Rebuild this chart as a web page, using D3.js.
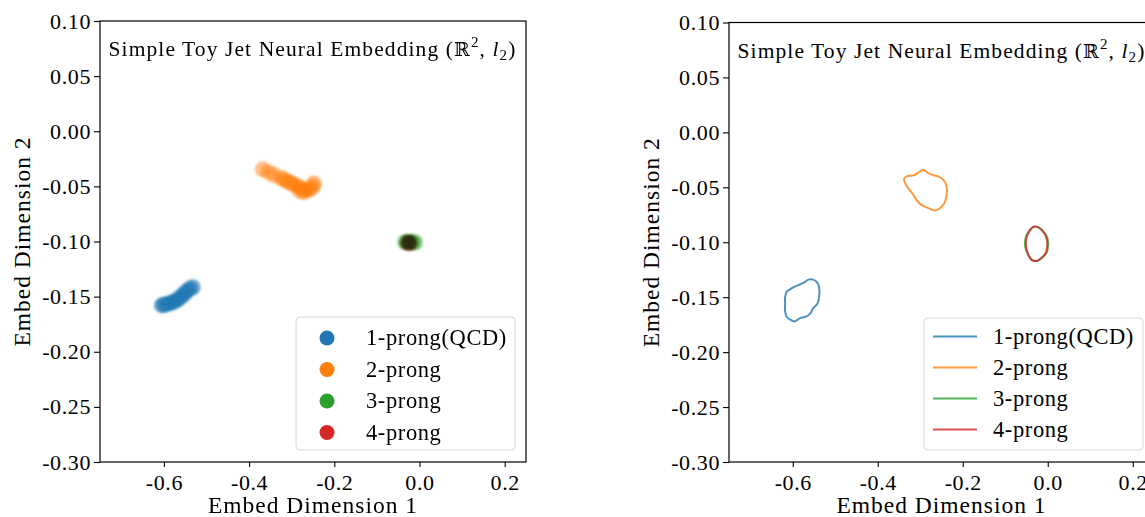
<!DOCTYPE html>
<html>
<head>
<meta charset="utf-8">
<script src="https://cdn.jsdelivr.net/npm/d3@7"></script>
<style>
    body { margin: 0; background: #fff; }
    text { font-family: "Liberation Serif", "Times New Roman", serif; fill: #000; }
</style>
</head>
<body>
<div id="chart"></div>
<script>
// ---- data ----
const categories = ['1-prong(QCD)', '2-prong', '3-prong', '4-prong'];
const colors = ['#1f77b4', '#ff7f0e', '#2ca02c', '#d62728'];

const xTicks = [-0.6, -0.4, -0.2, 0.0, 0.2];
const xTickLabels = ['-0.6', '-0.4', '-0.2', '0.0', '0.2'];
const yTicks = [0.10, 0.05, 0.00, -0.05, -0.10, -0.15, -0.20, -0.25, -0.30];
const yTickLabels = ['0.10', '0.05', '0.00', '-0.05', '-0.10', '-0.15', '-0.20', '-0.25', '-0.30'];

// embedded jets (left panel), [dim1, dim2]
const points1prong = [
    [-0.6050, -0.1580], [-0.6021, -0.1576], [-0.5974, -0.1571], [-0.5927, -0.1567],
    [-0.5880, -0.1562], [-0.5833, -0.1558], [-0.5786, -0.1549], [-0.5739, -0.1540],
    [-0.5692, -0.1531], [-0.5646, -0.1517], [-0.5599, -0.1503], [-0.5552, -0.1485],
    [-0.5505, -0.1467], [-0.5458, -0.1449], [-0.5411, -0.1435], [-0.5364, -0.1422],
    [-0.5317, -0.1413]
];
const points2prong = [
    [-0.3680, -0.0345], [-0.3545, -0.0372], [-0.3415, -0.0397],
    [-0.3251, -0.0424], [-0.3181, -0.0438], [-0.3110, -0.0451], [-0.3040, -0.0465],
    [-0.2969, -0.0478], [-0.2899, -0.0492], [-0.2829, -0.0506], [-0.2758, -0.0519],
    [-0.2688, -0.0533], [-0.2617, -0.0533], [-0.2547, -0.0519], [-0.2500, -0.0497],
    [-0.2477, -0.0474], [-0.2805, -0.0542], [-0.2711, -0.0551]
];
const points3prong = [
    [-0.0340, -0.1004], [-0.0293, -0.1009], [-0.0246, -0.1004],
    [-0.0200, -0.1009], [-0.0153, -0.1004], [-0.0106, -0.1009]
];
const points4prong = [
    [-0.0270, -0.1009], [-0.0235, -0.1014]
];

// density contours (right panel), [dim1, dim2]
const contour1prong = [
    [-0.618, -0.150], [-0.614, -0.145], [-0.603, -0.142], [-0.587, -0.139], [-0.575, -0.137],
    [-0.563, -0.134], [-0.552, -0.134], [-0.542, -0.137], [-0.538, -0.141], [-0.538, -0.150],
    [-0.542, -0.156], [-0.552, -0.160], [-0.559, -0.165], [-0.571, -0.168], [-0.583, -0.169],
    [-0.595, -0.172], [-0.603, -0.171], [-0.614, -0.168], [-0.618, -0.163], [-0.618, -0.156]
];
const contour2prong = [
    [-0.338, -0.042], [-0.332, -0.040], [-0.315, -0.039], [-0.302, -0.036], [-0.293, -0.034],
    [-0.281, -0.037], [-0.269, -0.039], [-0.258, -0.040], [-0.246, -0.043], [-0.238, -0.049],
    [-0.238, -0.057], [-0.244, -0.065], [-0.254, -0.069], [-0.265, -0.071], [-0.281, -0.069],
    [-0.297, -0.066], [-0.308, -0.062], [-0.316, -0.057], [-0.328, -0.051], [-0.336, -0.046]
];
const contour3prong = [
    [-0.052, -0.096], [-0.045, -0.090], [-0.034, -0.086], [-0.025, -0.086], [-0.013, -0.089],
    [-0.002, -0.095], [0.001, -0.101], [-0.002, -0.109], [-0.013, -0.114], [-0.026, -0.117],
    [-0.038, -0.116], [-0.048, -0.110], [-0.053, -0.104]
];
const contour4prong = [
    [-0.050, -0.096], [-0.043, -0.090], [-0.034, -0.086], [-0.025, -0.086], [-0.014, -0.089],
    [-0.004, -0.095], [-0.001, -0.101], [-0.004, -0.109], [-0.014, -0.114], [-0.026, -0.117],
    [-0.038, -0.116], [-0.047, -0.110], [-0.051, -0.104]
];

const scatterSets = [points1prong, points2prong, points3prong, points4prong];
const contourSets = [contour1prong, contour2prong, contour3prong, contour4prong];

// ---- layout ----
const W = 1145, H = 517;
const svg = d3.select('#chart').append('svg')
    .attr('width', W)
    .attr('height', H);

// soft edge for the scatter blobs
svg.append('defs').append('filter')
    .attr('id', 'soft')
    .attr('x', '-20%').attr('y', '-20%').attr('width', '140%').attr('height', '140%')
    .append('feGaussianBlur').attr('stdDeviation', 0.9);

// stretch a text to a given width (the reference font is wider than Times)
function fitText(sel, target) {
    let node = sel.node();
    let len = node.getComputedTextLength();
    let n = node.textContent.length;
    sel.attr('letter-spacing', ((target - len) / n).toFixed(2));
}

function drawPanel(box) {
    let g = svg.append('g');

    let x = d3.scaleLinear().domain([-0.75, 0.25]).range([box.left, box.right]);
    let y = d3.scaleLinear().domain([-0.30, 0.10]).range([box.bottom, box.top]);

    // x axis
    let xAxis = d3.axisBottom(x)
        .tickValues(xTicks)
        .tickFormat((d, i) => xTickLabels[i])
        .tickSizeInner(5)
        .tickSizeOuter(0)
        .tickPadding(7);
    let xg = g.append('g').attr('transform', `translate(0,${box.bottom})`).call(xAxis);
    xg.select('.domain').remove();
    xg.selectAll('text').attr('font-size', 22).attr('font-family', null).attr('letter-spacing', 0.6);

    // y axis
    let yAxis = d3.axisLeft(y)
        .tickValues(yTicks)
        .tickFormat((d, i) => yTickLabels[i])
        .tickSizeInner(6)
        .tickSizeOuter(0)
        .tickPadding(3);
    let yg = g.append('g').attr('transform', `translate(${box.left},0)`).call(yAxis);
    yg.select('.domain').remove();
    yg.selectAll('text').attr('font-size', 22).attr('font-family', null).attr('letter-spacing', 0.6);
    g.selectAll('.tick line').attr('stroke', '#000').attr('stroke-width', 1.1);

    // clip for marks
    let clipId = 'clip' + box.left;
    g.append('clipPath').attr('id', clipId)
        .append('rect')
        .attr('x', box.left).attr('y', box.top)
        .attr('width', box.right - box.left).attr('height', box.bottom - box.top);

    let marks = g.append('g').attr('clip-path', `url(#${clipId})`);

    // frame
    g.append('rect')
        .attr('x', box.left).attr('y', box.top)
        .attr('width', box.right - box.left).attr('height', box.bottom - box.top)
        .attr('fill', 'none')
        .attr('stroke', '#000')
        .attr('stroke-width', 1.2);

    // title
    let title = g.append('text')
        .attr('x', box.left + 8.5)
        .attr('y', box.top + 35)
        .attr('font-size', 21.5);
    title.append('tspan').text('Simple Toy Jet Neural Embedding (');
    title.append('tspan').text('\u211D').attr('font-family', 'DejaVu Serif').attr('font-size', 19);
    title.append('tspan').text('2').attr('font-size', 15).attr('dy', -9);
    title.append('tspan').text(', ').attr('dy', 9);
    title.append('tspan').text('l').attr('font-style', 'italic');
    title.append('tspan').text('2').attr('font-size', 15).attr('dy', 4);
    title.append('tspan').text(')').attr('dy', -4);
    fitText(title, 408);

    // axis labels
    let xl = g.append('text')
        .attr('x', (box.left + box.right) / 2)
        .attr('y', 513)
        .attr('text-anchor', 'middle')
        .attr('font-size', 23.5)
        .text('Embed Dimension 1');
    fitText(xl, 210);

    let yl = g.append('text')
        .attr('transform', `translate(${box.left - 70},${(box.top + box.bottom) / 2}) rotate(-90)`)
        .attr('text-anchor', 'middle')
        .attr('font-size', 23.5)
        .text('Embed Dimension 2');
    fitText(yl, 210);

    return {g: g, marks: marks, x: x, y: y};
}

// ---- left panel: scatter ----
let left = drawPanel({left: 100, right: 526, top: 21, bottom: 462});

scatterSets.forEach((pts, i) => {
    let layer = left.marks.append('g').attr('filter', 'url(#soft)');
    if (i === 3) layer.style('mix-blend-mode', 'multiply');
    layer.selectAll('circle')
        .data(pts)
        .enter()
        .append('circle')
        .attr('cx', d => left.x(d[0]))
        .attr('cy', d => left.y(d[1]))
        .attr('r', 8)
        .attr('fill', colors[i])
        .attr('fill-opacity', i === 3 ? 0.6 : 0.5);
});

// left legend
let legL = left.g.append('g').attr('transform', 'translate(296,317)');
legL.append('rect')
    .attr('width', 219).attr('height', 133)
    .attr('rx', 4)
    .attr('fill', '#fff').attr('fill-opacity', 0.8)
    .attr('stroke', '#d6d6d6').attr('stroke-width', 1);
categories.forEach((c, i) => {
    let row = legL.append('g').attr('transform', `translate(0,${21 + i * 31.5})`);
    row.append('circle').attr('cx', 31).attr('cy', 0).attr('r', 7.5).attr('fill', colors[i]);
    row.append('text').attr('x', 70).attr('dy', '0.33em').attr('font-size', 22.5)
        .attr('letter-spacing', 0.6).text(c);
});

// ---- right panel: contours ----
let right = drawPanel({left: 729, right: 1154, top: 22.5, bottom: 462});

let line = d3.line()
    .x(d => right.x(d[0]))
    .y(d => right.y(d[1]))
    .curve(d3.curveCatmullRomClosed.alpha(0.5));

contourSets.forEach((pts, i) => {
    right.marks.append('path')
        .attr('d', line(pts))
        .attr('fill', 'none')
        .attr('stroke', colors[i])
        .attr('stroke-opacity', 0.8)
        .attr('stroke-width', 2);
});

// right legend
let legR = right.g.append('g').attr('transform', 'translate(924,318)');
legR.append('rect')
    .attr('width', 219).attr('height', 132)
    .attr('rx', 4)
    .attr('fill', '#fff').attr('fill-opacity', 0.8)
    .attr('stroke', '#d6d6d6').attr('stroke-width', 1);
categories.forEach((c, i) => {
    let row = legR.append('g').attr('transform', `translate(0,${18.5 + i * 31})`);
    row.append('line')
        .attr('x1', 9).attr('x2', 53)
        .attr('stroke', colors[i]).attr('stroke-opacity', 0.8).attr('stroke-width', 2);
    row.append('text').attr('x', 69).attr('dy', '0.33em').attr('font-size', 22.5)
        .attr('letter-spacing', 0.6).text(c);
});
</script>
</body>
</html>
